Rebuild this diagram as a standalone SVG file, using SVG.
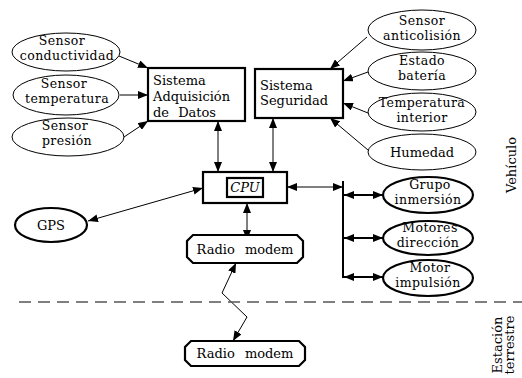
<svg xmlns="http://www.w3.org/2000/svg" width="522" height="378" viewBox="0 0 522 378">
<defs>
<marker id="ah" viewBox="0 0 10 8" refX="10" refY="4" markerWidth="10" markerHeight="8" markerUnits="userSpaceOnUse" orient="auto-start-reverse">
<path d="M0,0 L10,4 L0,8 z" fill="#000"/>
</marker>
</defs>
<style>
text{font-family:"DejaVu Serif","Liberation Serif",serif;font-size:13px;fill:#000}
.c{text-anchor:middle}
.e{font-size:12.5px;letter-spacing:0.4px}
.thin{fill:#fff;stroke:#000;stroke-width:1}
.bold{fill:#fff;stroke:#000;stroke-width:2.2}
.ln{fill:none;stroke:#000;stroke-width:1}
.lnb{fill:none;stroke:#000;stroke-width:2}
</style>
<rect width="522" height="378" fill="#fff"/>

<g id="connectors">
<path class="ln" d="M119,56 L148,68" marker-end="url(#ah)"/>
<path class="ln" d="M120,95 L148,95" marker-end="url(#ah)"/>
<path class="ln" d="M124,137 L148,121" marker-end="url(#ah)"/>
<path class="ln" d="M367,37 L330,69" marker-end="url(#ah)"/>
<path class="ln" d="M368,72 L343,81" marker-end="url(#ah)"/>
<path class="ln" d="M368,113 L343,103" marker-end="url(#ah)"/>
<path class="ln" d="M368,150 L330,118" marker-end="url(#ah)"/>
<path class="ln" d="M218,121 L218,172" marker-start="url(#ah)" marker-end="url(#ah)"/>
<path class="ln" d="M273,118 L273,172" marker-start="url(#ah)" marker-end="url(#ah)"/>
<path class="ln" d="M88,221 L203,188" marker-start="url(#ah)" marker-end="url(#ah)"/>
<path class="ln" d="M247,203 L247,240" marker-start="url(#ah)" marker-end="url(#ah)"/>
<path class="ln" d="M287,187 L343,187" marker-start="url(#ah)" marker-end="url(#ah)"/>
<path class="lnb" d="M343,181 L343,278"/>
<path class="lnb" d="M344,195 L383,195" marker-start="url(#ah)" marker-end="url(#ah)"/>
<path class="lnb" d="M344,238 L383,238" marker-start="url(#ah)" marker-end="url(#ah)"/>
<path class="lnb" d="M344,277 L383,277" marker-start="url(#ah)" marker-end="url(#ah)"/>
<path class="ln" d="M236,263 L222,293 L247,317 L233,341" marker-start="url(#ah)" marker-end="url(#ah)"/>
</g>

<line x1="19" y1="302" x2="522" y2="302" stroke="#555" stroke-width="1.3" stroke-dasharray="12,7"/>

<g id="sensor-conductividad">
<ellipse class="thin" cx="66" cy="52" rx="54" ry="19"/>
<text class="c e" x="62" y="45">Sensor</text>
<text class="c e" x="67" y="60">conductividad</text>
</g>
<g id="sensor-temperatura">
<ellipse class="thin" cx="66" cy="95" rx="53" ry="20"/>
<text class="c e" x="64" y="88">Sensor</text>
<text class="c e" x="67" y="103">temperatura</text>
</g>
<g id="sensor-presion">
<ellipse class="thin" cx="68" cy="137" rx="56" ry="19"/>
<text class="c e" x="65" y="130">Sensor</text>
<text class="c e" x="67" y="145">presión</text>
</g>

<g id="sistema-adquisicion">
<rect class="bold" x="148" y="68" width="97" height="53"/>
<text x="153" y="85">Sistema</text>
<text x="153" y="101">Adquisición</text>
<text x="153" y="117" word-spacing="5">de Datos</text>
</g>

<g id="sistema-seguridad">
<rect class="bold" x="255" y="69" width="88" height="49"/>
<text x="260" y="90">Sistema</text>
<text x="260" y="105">Seguridad</text>
</g>

<g id="sensor-anticolision">
<ellipse class="thin" cx="422" cy="30" rx="54" ry="20"/>
<text class="c e" x="422" y="25">Sensor</text>
<text class="c e" x="422" y="40">anticolisión</text>
</g>
<g id="estado-bateria">
<ellipse class="thin" cx="422" cy="71" rx="54" ry="19"/>
<text class="c e" x="422" y="65">Estado</text>
<text class="c e" x="422" y="80">batería</text>
</g>
<g id="temperatura-interior">
<ellipse class="thin" cx="422" cy="112" rx="54" ry="19"/>
<text class="c e" x="422" y="107">Temperatura</text>
<text class="c e" x="422" y="122">interior</text>
</g>
<g id="humedad">
<ellipse class="thin" cx="422" cy="152" rx="54" ry="18"/>
<text class="c" x="422" y="157">Humedad</text>
</g>

<g id="cpu">
<rect class="bold" x="203" y="172" width="84" height="31"/>
<rect class="bold" x="227" y="178" width="36" height="19"/>
<text class="c" x="245" y="192" font-style="italic">CPU</text>
</g>

<g id="gps">
<ellipse class="bold" cx="51" cy="225" rx="36" ry="17"/>
<text class="c" x="51" y="230">GPS</text>
</g>

<g id="grupo-inmersion">
<ellipse class="bold" cx="428" cy="195" rx="45" ry="18"/>
<text class="c e" x="430" y="189">Grupo</text>
<text class="c e" x="428" y="204">inmersión</text>
</g>
<g id="motores-direccion">
<ellipse class="bold" cx="428" cy="238" rx="45" ry="17"/>
<text class="c e" x="430" y="232">Motores</text>
<text class="c e" x="428" y="247">dirección</text>
</g>
<g id="motor-impulsion">
<ellipse class="bold" cx="428" cy="278" rx="45" ry="18"/>
<text class="c e" x="430" y="272">Motor</text>
<text class="c e" x="428" y="287">impulsión</text>
</g>

<g id="radio-modem-vehiculo">
<path class="bold" d="M193,235 L297,235 L303,241 L303,257 L297,263 L193,263 L187,257 L187,241 z"/>
<text class="c" x="245" y="254" font-size="14" word-spacing="6">Radio modem</text>
</g>

<g id="radio-modem-estacion">
<path class="bold" d="M191,341 L299,341 L305,347 L305,360 L299,366 L191,366 L185,360 L185,347 z"/>
<text class="c" x="245" y="358" font-size="14" word-spacing="6">Radio modem</text>
</g>

<text class="c" transform="translate(516,165) rotate(-90)">Vehículo</text>
<text class="c" transform="translate(502,345) rotate(-90)">Estación</text>
<text class="c" transform="translate(514,345) rotate(-90)">terrestre</text>
</svg>
